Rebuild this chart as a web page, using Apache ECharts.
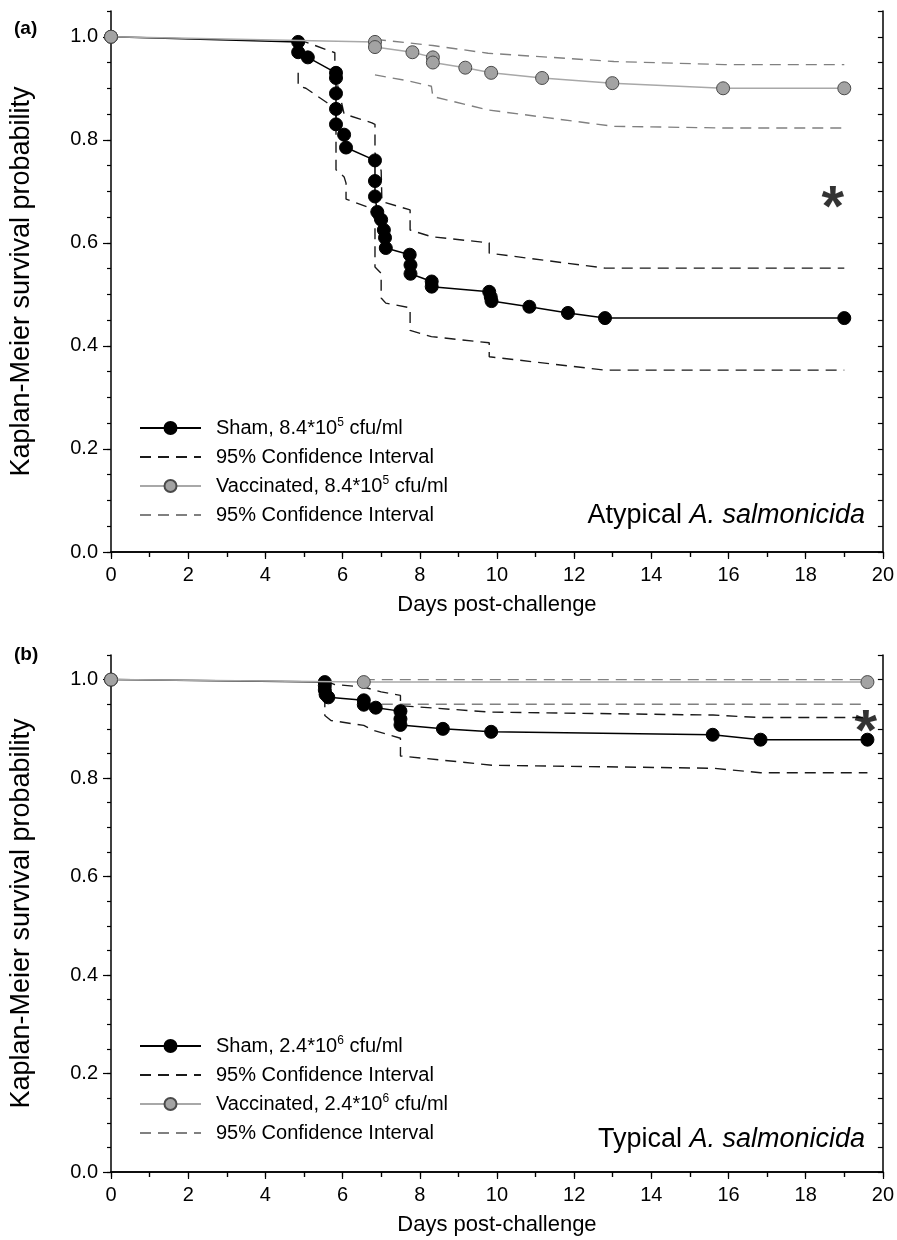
<!DOCTYPE html>
<html>
<head>
<meta charset="utf-8">
<script src="https://cdn.jsdelivr.net/npm/echarts@6/dist/echarts.min.js"></script>
<style>
  html, body { margin: 0; padding: 0; background: #fff; }
  #chart { width: 897px; height: 1240px; }
</style>
</head>
<body>
<div id="chart"></div>
<script>
// panel (a): atypical A. salmonicida, 8.4*10^5 cfu/ml  -- [day, survival]
const shamA = [
  [0, 1.0], [4.85, 0.99], [4.85, 0.97], [5.1, 0.96], [5.83, 0.93], [5.83, 0.92],
  [5.83, 0.89], [5.83, 0.86], [5.83, 0.83], [6.04, 0.81], [6.09, 0.785], [6.84, 0.76],
  [6.84, 0.72], [6.84, 0.69], [6.9, 0.66], [7.0, 0.645], [7.07, 0.625], [7.1, 0.61],
  [7.12, 0.59], [7.74, 0.577], [7.76, 0.557], [7.76, 0.54], [8.31, 0.525], [8.31, 0.515],
  [9.8, 0.505], [9.84, 0.495], [9.86, 0.487], [10.84, 0.476], [11.84, 0.464],
  [12.8, 0.454], [19, 0.454],
]
const shamUpperA = [
  [4.85, 0.995], [5.8, 0.969], [5.8, 0.93], [6.04, 0.85], [6.76, 0.833], [6.84, 0.83],
  [6.84, 0.775], [7.0, 0.74], [7.02, 0.68], [7.75, 0.664], [7.75, 0.625], [8.3, 0.612],
  [9.8, 0.6], [9.8, 0.58], [12.8, 0.551], [19, 0.551],
]
const shamLowerA = [
  [4.85, 0.93], [4.85, 0.905], [5.05, 0.9], [5.6, 0.872], [5.83, 0.858], [5.83, 0.742],
  [6.04, 0.728], [6.09, 0.716], [6.09, 0.685], [6.7, 0.668], [6.84, 0.645], [6.84, 0.553],
  [7.0, 0.541], [7.0, 0.493], [7.12, 0.483], [7.75, 0.474], [7.75, 0.43], [8.3, 0.418],
  [9.8, 0.406], [9.8, 0.379], [12.8, 0.353], [19, 0.353],
]
const vacA = [
  [0, 1.0], [6.84, 0.99], [6.84, 0.98], [7.81, 0.97], [8.34, 0.96], [8.34, 0.95],
  [9.18, 0.94], [9.85, 0.93], [11.17, 0.92], [12.99, 0.91], [15.86, 0.90], [19, 0.90],
]
const vacUpperA = [[6.84, 0.995], [8.34, 0.983], [9.77, 0.968], [13.03, 0.952], [15.9, 0.946], [19, 0.946]]
const vacLowerA = [
  [6.84, 0.926], [7.73, 0.914], [8.3, 0.904], [8.34, 0.884], [9.77, 0.858],
  [13.03, 0.826], [15.9, 0.823], [19, 0.823],
]

// panel (b): typical A. salmonicida, 2.4*10^6 cfu/ml
const shamB = [
  [0, 1.0], [5.54, 0.995], [5.54, 0.988], [5.54, 0.979], [5.56, 0.97], [5.63, 0.964],
  [6.55, 0.958], [6.55, 0.949], [6.86, 0.943], [7.5, 0.936], [7.5, 0.92], [7.5, 0.908],
  [8.6, 0.9], [9.85, 0.894], [15.59, 0.888], [16.83, 0.878], [19.6, 0.878],
]
const shamUpperB = [
  [5.54, 0.998], [5.8, 0.99], [6.55, 0.985], [7.0, 0.975], [7.5, 0.968], [7.5, 0.947],
  [9.85, 0.934], [15.6, 0.928], [16.83, 0.923], [19.6, 0.923],
]
const shamLowerB = [
  [5.54, 0.966], [5.54, 0.927], [5.7, 0.917], [6.55, 0.907], [6.8, 0.897], [7.5, 0.881],
  [7.5, 0.845], [9.9, 0.826], [15.6, 0.82], [16.83, 0.811], [19.6, 0.811],
]
const vacB = [[0, 1.0], [6.55, 0.995], [19.6, 0.995]]
const vacUpperB = [[6.55, 1.0], [19.6, 1.0]]
const vacLowerB = [[6.55, 0.95], [19.6, 0.95]]

const starA = [[18.7, 0.69]]
const starB = [[19.56, 0.917]]

const legendA = ['Sham, 8.4*10^5 cfu/ml', '95% Confidence Interval', 'Vaccinated, 8.4*10^5 cfu/ml', '95% Confidence Interval']
const legendB = ['Sham, 2.4*10^6 cfu/ml', '95% Confidence Interval', 'Vaccinated, 2.4*10^6 cfu/ml', '95% Confidence Interval']

const FONT = 'Liberation Sans'
const labelOf = {}
;['shamA', 'ciShamA', 'vacA', 'ciVacA'].forEach((k, i) => { labelOf[k] = legendA[i] })
;['shamB', 'ciShamB', 'vacB', 'ciVacB'].forEach((k, i) => { labelOf[k] = legendB[i] })

function legendText(name) {
  const s = labelOf[name]
  const m = s.match(/^(.*)\^(\d)(.*)$/)
  if (!m) return '{t|' + s + '}'
  return '{t|' + m[1] + '}{sup|' + m[2] + '}{t|' + m[3] + '}'
}

function xAxes(grid) {
  return [
    {
      gridIndex: grid, type: 'value', position: 'bottom', min: 0, max: 20, interval: 2,
      name: 'Days post-challenge', nameLocation: 'middle', nameGap: 42,
      nameTextStyle: { fontFamily: FONT, fontSize: 22, color: '#000' },
      axisLine: { lineStyle: { color: '#000', width: 1.5 } },
      axisTick: { inside: false, length: 7, lineStyle: { color: '#000', width: 1.2 } },
      minorTick: { show: true, splitNumber: 2, length: 5, lineStyle: { color: '#000', width: 1.2 } },
      axisLabel: { fontFamily: FONT, fontSize: 20, color: '#000', margin: 13 },
      splitLine: { show: false },
    },
    {
      gridIndex: grid, type: 'value', position: 'top', min: 0, max: 20, interval: 1,
      axisLine: { lineStyle: { color: '#000', width: 1.5 } },
      axisTick: { inside: true, length: 5, lineStyle: { color: '#000', width: 1.2 } },
      axisLabel: { show: false },
      splitLine: { show: false },
    },
  ]
}

function yAxes(grid) {
  return [
    {
      gridIndex: grid, type: 'value', position: 'left', min: 0, max: 1.05, interval: 0.2,
      name: 'Kaplan-Meier survival probability', nameLocation: 'middle', nameGap: 76,
      nameTextStyle: { fontFamily: FONT, fontSize: 27, color: '#000' },
      axisLine: { lineStyle: { color: '#000', width: 1.5 } },
      axisTick: { inside: false, length: 8, lineStyle: { color: '#000', width: 1.2 } },
      axisLabel: {
        fontFamily: FONT, fontSize: 20, color: '#000', margin: 13, showMaxLabel: false,
        formatter: v => v.toFixed(1),
      },
      splitLine: { show: false },
    },
    {
      gridIndex: grid, type: 'value', position: 'left', min: 0, max: 1.05, interval: 0.05,
      axisLine: { show: false },
      axisTick: { inside: false, length: 4, lineStyle: { color: '#000', width: 1.2 } },
      axisLabel: { show: false },
      splitLine: { show: false },
    },
    {
      gridIndex: grid, type: 'value', position: 'right', min: 0, max: 1.05, interval: 0.05,
      axisLine: { lineStyle: { color: '#000', width: 1.5 } },
      axisTick: { inside: true, length: 5, lineStyle: { color: '#000', width: 1.2 } },
      axisLabel: { show: false },
      splitLine: { show: false },
    },
  ]
}

function km(name, data, grid, color, fill) {
  return {
    name, type: 'line', data, xAxisIndex: grid * 2, yAxisIndex: grid * 3,
    symbol: 'circle', symbolSize: 13, showSymbol: true,
    lineStyle: { color, width: 1.5 },
    itemStyle: { color: fill, borderColor: fill === '#000' ? '#000' : '#4a4a4a', borderWidth: 1 },
    z: fill === '#000' ? 4 : 5,
  }
}

function ci(name, data, grid, color) {
  return {
    name, type: 'line', data, xAxisIndex: grid * 2, yAxisIndex: grid * 3,
    symbol: 'none', showSymbol: false,
    lineStyle: { color, width: 1.4, type: [11, 7] },
    itemStyle: { color },
    z: 3,
  }
}

function star(name, data, grid) {
  return {
    name, type: 'scatter', data, xAxisIndex: grid * 2, yAxisIndex: grid * 3,
    symbol: 'circle', symbolSize: 1, itemStyle: { color: 'rgba(0,0,0,0)' },
    label: {
      show: true, position: 'inside', formatter: '*', offset: [0, 14],
      fontFamily: FONT, fontSize: 58, fontWeight: 'bold', color: '#000',
    },
    z: 6,
  }
}

const BLACK_CI = '#1a1a1a'
const GRAY_CI = '#808080'
const GRAY_LINE = '#a8a8a8'
const GRAY_FILL = '#a3a3a3'

function legend(keys, top) {
  return {
    data: keys.map((k, i) => (i % 2 === 1 ? { name: k, itemStyle: { opacity: 0 } } : { name: k })),
    orient: 'vertical', left: 139, top, padding: 0,
    itemWidth: 61, itemHeight: 15, itemGap: 8,
    selectedMode: false, formatter: legendText,
    textStyle: {
      fontFamily: FONT, fontSize: 20, color: '#000', padding: [0, 0, 0, 10],
      rich: {
        t: { fontFamily: FONT, fontSize: 20, color: '#000', lineHeight: 22 },
        sup: { fontFamily: FONT, fontSize: 12, color: '#000', lineHeight: 22, verticalAlign: 'top', padding: [0, 0, 10, 0] },
      },
    },
  }
}

const chart = echarts.init(document.getElementById('chart'), null, { renderer: 'canvas' })
chart.setOption({
  animation: false,
  backgroundColor: '#fff',
  grid: [
    { left: 111, top: 11, width: 775, height: 541 },
    { left: 111, top: 655, width: 775, height: 517 },
  ],
  xAxis: [...xAxes(0), ...xAxes(1)],
  yAxis: [...yAxes(0), ...yAxes(1)],
  legend: [
    legend(['shamA', 'ciShamA', 'vacA', 'ciVacA'], 417),
    legend(['shamB', 'ciShamB', 'vacB', 'ciVacB'], 1035),
  ],
  graphic: [
    { type: 'text', left: 14, top: 19, style: { text: '(a)', font: 'bold 19px "Liberation Sans"', fill: '#000' } },
    { type: 'text', left: 14, top: 645, style: { text: '(b)', font: 'bold 19px "Liberation Sans"', fill: '#000' } },
    {
      type: 'text', right: 32, top: 502,
      style: {
        text: '{n|Atypical }{i|A. salmonicida}', fill: '#000',
        rich: { n: { fontFamily: FONT, fontSize: 27 }, i: { fontFamily: FONT, fontSize: 27, fontStyle: 'italic' } },
      },
    },
    {
      type: 'text', right: 32, top: 1126,
      style: {
        text: '{n|Typical }{i|A. salmonicida}', fill: '#000',
        rich: { n: { fontFamily: FONT, fontSize: 27 }, i: { fontFamily: FONT, fontSize: 27, fontStyle: 'italic' } },
      },
    },
  ],
  series: [
    ci('ciShamA', shamUpperA, 0, BLACK_CI),
    ci('ciShamA', shamLowerA, 0, BLACK_CI),
    ci('ciVacA', vacUpperA, 0, GRAY_CI),
    ci('ciVacA', vacLowerA, 0, GRAY_CI),
    km('shamA', shamA, 0, '#000', '#000'),
    km('vacA', vacA, 0, GRAY_LINE, GRAY_FILL),
    star('starA', starA, 0),
    ci('ciShamB', shamUpperB, 1, BLACK_CI),
    ci('ciShamB', shamLowerB, 1, BLACK_CI),
    ci('ciVacB', vacUpperB, 1, GRAY_CI),
    ci('ciVacB', vacLowerB, 1, GRAY_CI),
    km('shamB', shamB, 1, '#000', '#000'),
    km('vacB', vacB, 1, GRAY_LINE, GRAY_FILL),
    star('starB', starB, 1),
  ],
})
</script>
</body>
</html>
